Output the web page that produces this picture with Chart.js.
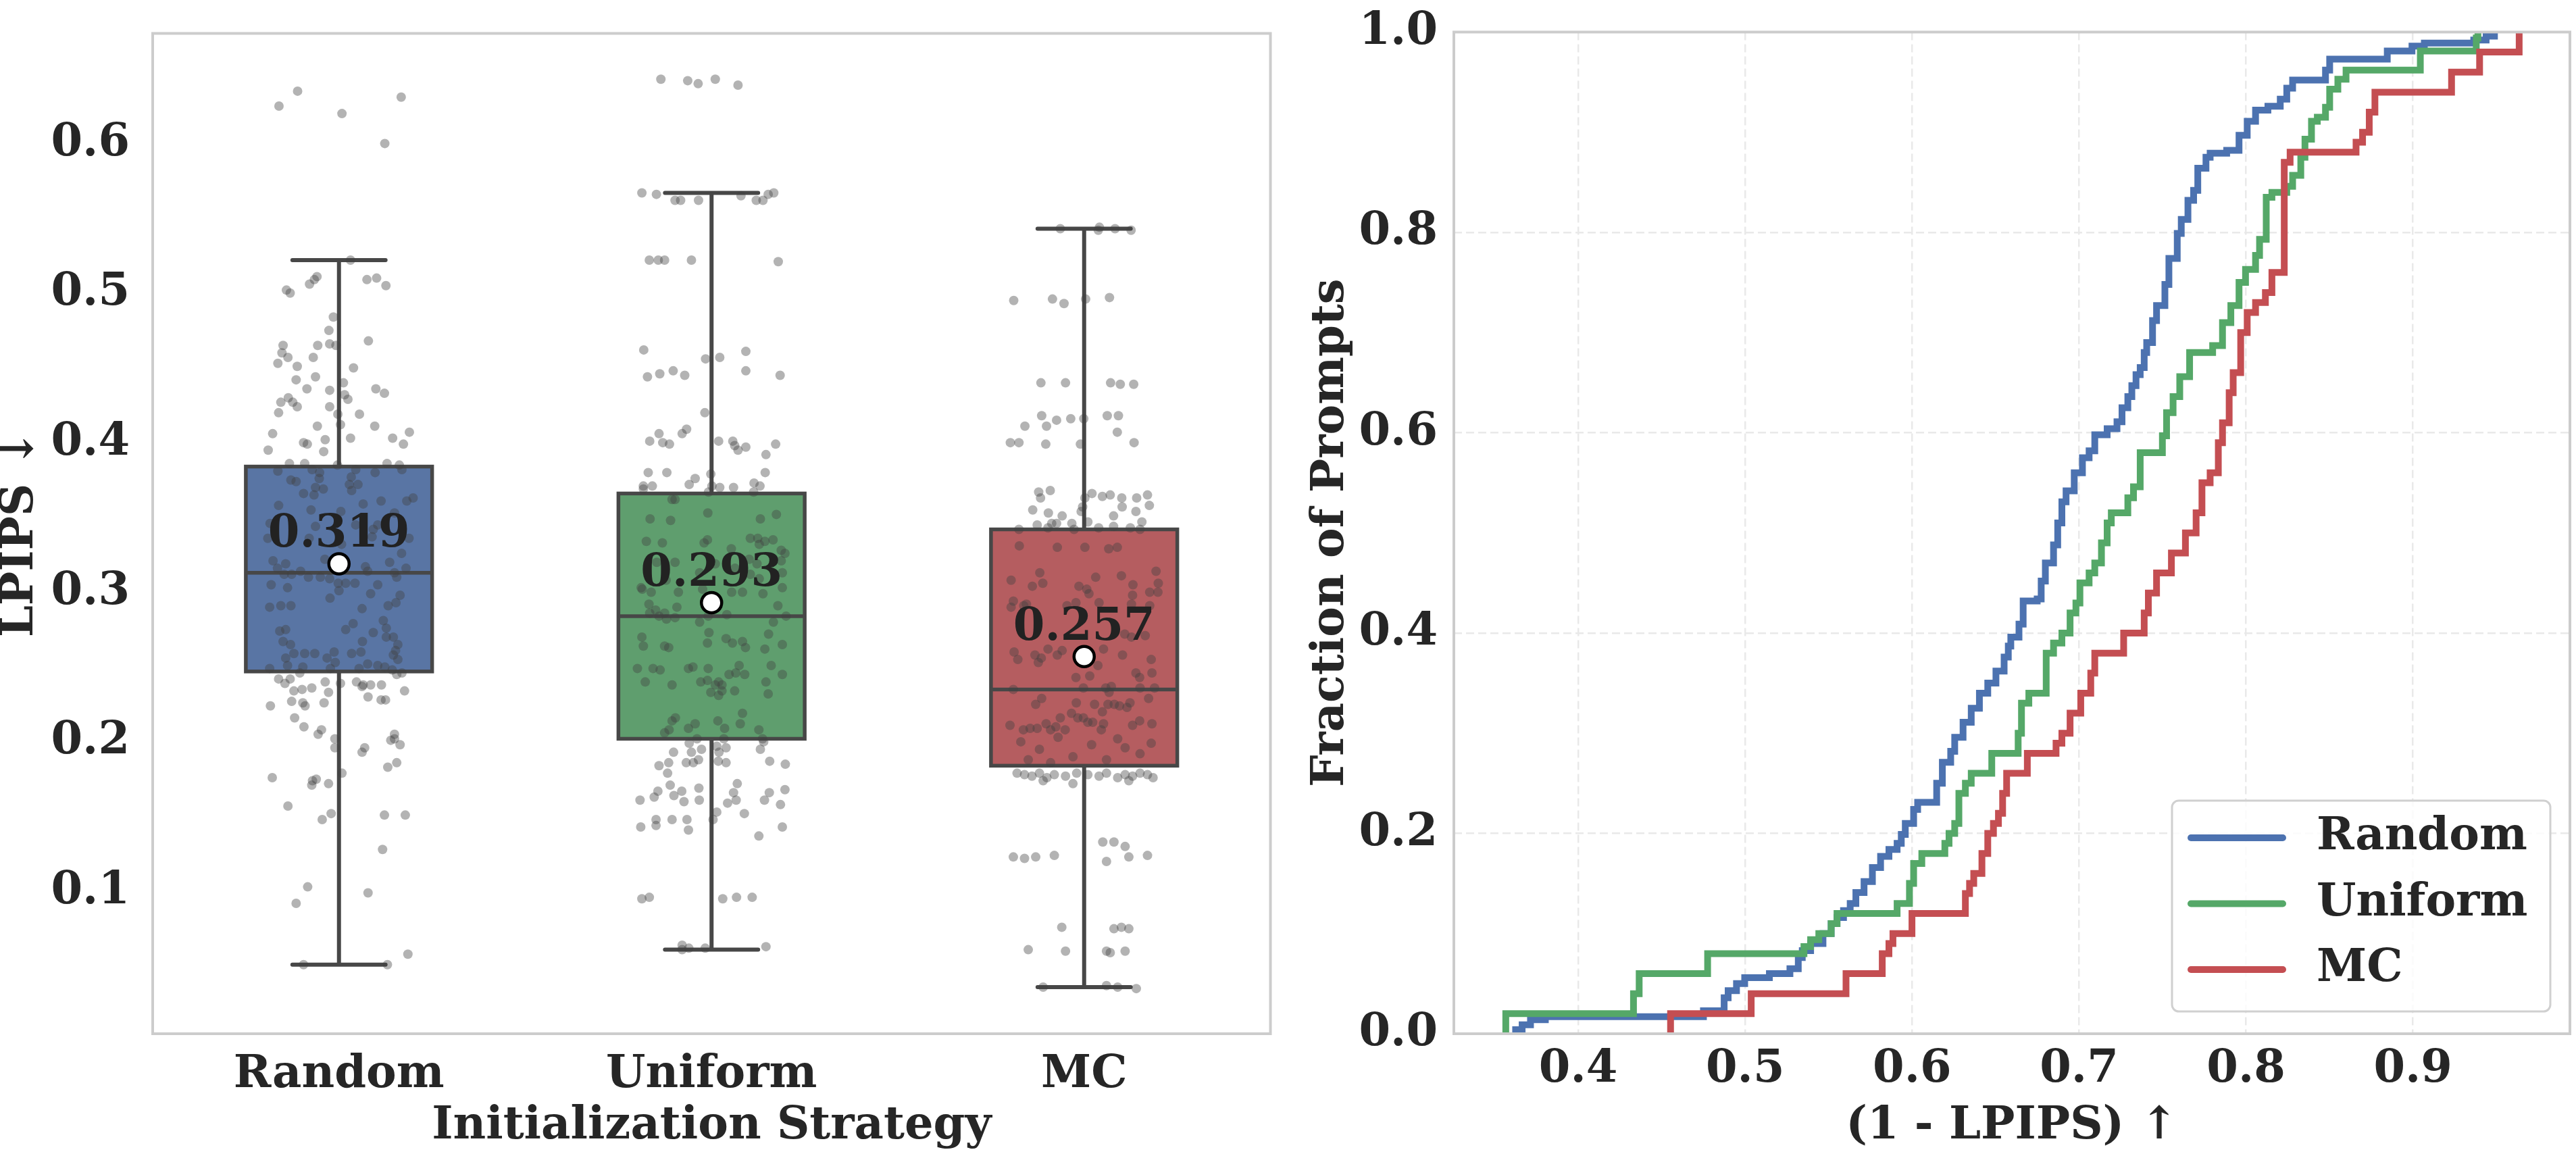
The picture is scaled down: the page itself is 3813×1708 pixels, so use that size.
<!DOCTYPE html>
<html>
<head>
<meta charset="utf-8">
<script src="https://cdn.jsdelivr.net/npm/chart.js@4.4.1/dist/chart.umd.min.js"></script>
<style>
  html, body { margin: 0; padding: 0; background: #fff; }
  body { width: 3813px; height: 1708px; position: relative; overflow: hidden; }
  #boxChart { position: absolute; left: 0; top: 0; }
  #ecdfChart { position: absolute; left: 1900px; top: 0; }
</style>
</head>
<body>
<canvas id="boxChart" width="1900" height="1708"></canvas>
<canvas id="ecdfChart" width="1913" height="1708"></canvas>
<script>
// ---- left panel: box + strip ----
const categories = ['Random', 'Uniform', 'MC'];
const boxColors = ['#5975a4', '#5f9e6e', '#b55d60'];
const whiskerLow = [0.051, 0.061, 0.036];
const q1 = [0.247, 0.202, 0.184];
const median = [0.313, 0.284, 0.235];
const q3 = [0.384, 0.366, 0.342];
const whiskerHigh = [0.522, 0.567, 0.543];
const means = [0.319, 0.293, 0.257];
const lpipsTicks = [0.1, 0.2, 0.3, 0.4, 0.5, 0.6];

// strip points: [jitter, LPIPS]
const randomPts = [
  [-0.111,0.635],[-0.161,0.625],[0.167,0.631],[0.008,0.620],[0.123,0.600],[0.031,0.522],[-0.059,0.511],[-0.066,0.509],
  [-0.079,0.506],[0.075,0.509],[0.101,0.510],[0.126,0.505],[-0.141,0.502],[-0.131,0.500],[-0.015,0.484],[-0.027,0.475],
  [0.079,0.468],[-0.150,0.465],[-0.057,0.465],[-0.025,0.466],[-0.008,0.465],[-0.153,0.460],[-0.137,0.457],[-0.069,0.457],
  [-0.164,0.453],[-0.112,0.451],[0.039,0.450],[-0.115,0.442],[-0.063,0.444],[0.012,0.440],[-0.086,0.436],[-0.025,0.435],
  [0.099,0.436],[0.122,0.433],[0.015,0.432],[-0.136,0.430],[0.024,0.429],[-0.156,0.427],[-0.124,0.427],
  [-0.112,0.424],[-0.025,0.424],[-0.162,0.420],[-0.003,0.419],[0.055,0.419],[0.004,0.412],[-0.058,0.411],[0.096,0.411],
  [-0.178,0.406],[0.189,0.407],[0.031,0.403],[0.144,0.403],[-0.095,0.400],[-0.085,0.399],[-0.037,0.402],[0.173,0.399],
  [-0.190,0.395],[-0.041,0.394],[-0.133,0.386],[-0.092,0.386],[0.129,0.386],[0.162,0.385],[-0.004,0.385],[-0.164,0.381],
  [-0.072,0.382],[-0.052,0.380],[0.045,0.382],[0.097,0.380],[0.169,0.382],[-0.053,0.376],[-0.129,0.375],[-0.115,0.374],
  [0.033,0.377],[0.051,0.372],[0.028,0.372],[-0.063,0.370],[-0.042,0.369],[-0.095,0.366],[-0.067,0.365],[0.034,0.368],
  [0.199,0.363],[0.182,0.361],[0.113,0.361],[0.065,0.359],[-0.162,0.358],[-0.075,0.355],[0.005,0.354],[0.149,0.353],
  [-0.185,0.346],[-0.063,0.344],[0.045,0.345],[0.092,0.342],[0.104,0.345],[-0.191,0.336],[-0.080,0.336],[0.089,0.337],
  [0.188,0.336],[0.007,0.332],[0.168,0.326],[-0.038,0.322],[-0.177,0.321],[-0.143,0.319],[0.136,0.320],[-0.165,0.316],
  [0.071,0.317],[0.180,0.316],[0.077,0.314],[-0.103,0.314],[0.149,0.313],[-0.127,0.312],[-0.147,0.312],[-0.082,0.310],
  [-0.050,0.310],[-0.025,0.309],[0.155,0.310],[-0.002,0.306],[0.018,0.306],[0.043,0.306],[0.104,0.305],[-0.182,0.305],
  [-0.138,0.303],[0.000,0.301],[0.085,0.299],[0.164,0.298],[-0.024,0.296],[-0.186,0.290],[-0.156,0.291],[-0.129,0.291],
  [0.062,0.289],[0.132,0.291],[0.153,0.293],[0.119,0.281],[0.038,0.279],[0.018,0.275],[-0.159,0.274],[-0.143,0.275],
  [0.127,0.276],[0.092,0.273],[0.127,0.270],[0.146,0.270],[-0.150,0.267],[-0.130,0.265],[0.063,0.267],[0.158,0.265],
  [0.152,0.261],[-0.121,0.259],[-0.092,0.259],[-0.065,0.259],[-0.013,0.260],[0.034,0.259],[0.059,0.260],[0.146,0.258],
  [-0.143,0.256],[-0.032,0.256],[0.158,0.255],[-0.010,0.253],[0.077,0.252],[-0.186,0.249],[-0.138,0.251],[-0.097,0.250],
  [-0.023,0.249],[0.054,0.249],[0.104,0.251],[0.123,0.250],[0.143,0.248],[0.169,0.246],[-0.105,0.246],[0.155,0.245],
  [-0.162,0.242],[-0.131,0.242],[-0.037,0.240],[0.004,0.239],[0.047,0.240],[0.065,0.238],[0.085,0.238],[0.114,0.238],
  [-0.145,0.239],[0.062,0.237],[-0.121,0.234],[-0.099,0.235],[-0.073,0.236],[-0.028,0.233],[0.176,0.234],[0.078,0.230],
  [0.113,0.228],[0.125,0.228],[-0.127,0.227],[-0.097,0.226],[-0.040,0.226],[-0.184,0.224],[-0.091,0.224],[-0.119,0.216],
  [-0.094,0.210],[-0.047,0.208],[-0.056,0.205],[0.149,0.205],
  [-0.011,0.202],[-0.011,0.196],[0.139,0.201],[0.149,0.202],[0.164,0.198],[0.069,0.196],[0.062,0.193],[0.155,0.186],
  [0.131,0.183],[0.008,0.179],[-0.179,0.176],[-0.071,0.174],[-0.061,0.175],[-0.073,0.171],[-0.028,0.172],[-0.137,0.157],
  [-0.021,0.152],[-0.045,0.148],[0.122,0.151],[0.178,0.151],[0.117,0.128],[-0.084,0.103],[0.078,0.099],[-0.115,0.092],
  [0.185,0.058],[-0.095,0.051],[0.130,0.051]
];
const uniformPts = [
  [-0.136,0.643],[-0.064,0.642],[-0.036,0.640],[0.010,0.643],[0.071,0.639],[-0.187,0.567],[-0.148,0.566],[-0.098,0.562],
  [-0.083,0.562],[-0.035,0.562],[0.079,0.565],[0.120,0.562],[0.138,0.562],[0.152,0.566],[0.167,0.567],[-0.167,0.522],
  [-0.143,0.522],[-0.126,0.522],[-0.054,0.522],[0.179,0.521],[-0.182,0.462],[-0.016,0.456],[0.022,0.457],[0.092,0.461],
  [-0.172,0.444],[-0.139,0.446],[-0.103,0.448],[-0.072,0.445],[0.092,0.448],[0.184,0.445],
  [-0.018,0.420],[-0.141,0.406],[-0.067,0.409],[-0.079,0.406],[-0.166,0.401],[-0.131,0.400],[-0.113,0.399],[0.019,0.401],
  [0.057,0.401],[0.062,0.398],[0.071,0.395],[0.092,0.397],[0.172,0.399],[0.146,0.392],[-0.170,0.380],[-0.120,0.380],
  [-0.002,0.379],[0.144,0.380],[-0.044,0.376],[-0.060,0.372],[-0.183,0.371],[-0.159,0.371],[-0.183,0.369],[0.001,0.371],
  [0.022,0.370],[0.059,0.370],[0.114,0.373],[0.130,0.371],[0.113,0.367],[-0.008,0.367],[-0.106,0.362],[-0.098,0.362],
  [-0.010,0.353],[-0.165,0.349],[-0.110,0.348],[0.131,0.349],[0.174,0.352],[-0.175,0.334],[-0.132,0.333],[-0.020,0.333],
  [-0.011,0.335],[0.104,0.336],[0.124,0.336],[0.143,0.334],[0.165,0.335],[0.128,0.332],[0.053,0.329],[0.187,0.328],
  [0.197,0.326],[0.187,0.321],[-0.098,0.320],[-0.147,0.320],[0.010,0.319],[0.101,0.322],[0.122,0.319],[0.063,0.316],
  [-0.032,0.313],[0.104,0.312],[0.190,0.313],[0.128,0.309],[-0.122,0.308],[-0.189,0.303],[0.190,0.303],[-0.186,0.302],
  [-0.162,0.300],[-0.089,0.300],[-0.024,0.302],[0.054,0.300],[0.083,0.300],[0.138,0.299],[-0.168,0.292],[-0.093,0.290],
  [0.007,0.293],[0.178,0.291],[-0.166,0.286],[-0.150,0.288],[-0.126,0.286],[-0.141,0.284],[-0.121,0.282],[-0.098,0.283],
  [-0.009,0.284],[0.041,0.285],[0.200,0.284],[-0.032,0.280],[0.166,0.280],[-0.007,0.273],[0.153,0.272],[-0.187,0.270],
  [0.039,0.269],[0.083,0.267],[-0.183,0.264],[-0.126,0.264],[-0.115,0.263],[-0.011,0.266],[0.056,0.266],[0.091,0.263],
  [0.143,0.262],[0.190,0.265],[-0.199,0.249],[-0.157,0.249],[-0.138,0.248],[-0.062,0.249],[-0.050,0.250],[-0.009,0.249],
  [0.074,0.251],[0.047,0.245],[0.065,0.246],[0.089,0.245],[0.160,0.251],[0.190,0.245],[-0.178,0.240],[-0.106,0.238],
  [-0.029,0.240],[-0.011,0.241],[0.019,0.240],[0.010,0.238],[0.028,0.238],[0.146,0.240],[-0.002,0.233],[0.028,0.234],
  [0.062,0.234],[0.019,0.231],[0.152,0.232],[0.083,0.219],[-0.097,0.216],[-0.106,0.214],[-0.044,0.212],[-0.062,0.209],
  [0.017,0.214],[0.035,0.209],[0.077,0.212],[0.127,0.208],[-0.114,0.208],[-0.126,0.206],
  [-0.060,0.199],[-0.039,0.202],[0.033,0.202],[0.140,0.200],[0.137,0.202],[-0.102,0.193],[-0.054,0.193],[-0.027,0.195],
  [0.014,0.197],[0.020,0.193],[0.039,0.196],[0.131,0.195],[-0.141,0.184],[-0.115,0.186],[-0.068,0.186],[-0.049,0.186],
  [-0.035,0.188],[0.018,0.187],[0.039,0.186],[0.156,0.187],[0.198,0.185],[-0.118,0.179],[-0.111,0.171],[0.069,0.172],
  [-0.034,0.169],[-0.144,0.167],[-0.080,0.167],[0.059,0.166],[0.155,0.166],[0.197,0.168],[-0.192,0.161],[-0.154,0.163],
  [-0.101,0.164],[-0.074,0.160],[-0.033,0.161],[0.043,0.159],[0.066,0.161],[0.142,0.161],[0.185,0.158],[0.014,0.153],
  [0.088,0.152],[-0.149,0.148],[-0.106,0.148],[-0.066,0.148],[0.004,0.148],[-0.190,0.143],[-0.149,0.144],[0.190,0.143],
  [-0.062,0.141],[0.127,0.137],[-0.187,0.095],[-0.167,0.096],[0.030,0.095],[0.067,0.096],[0.109,0.096],[-0.079,0.064],
  [-0.079,0.061],[-0.061,0.062],[-0.017,0.062],[0.146,0.063]
];
const mcPts = [
  [-0.064,0.543],[0.038,0.542],[0.041,0.544],[0.083,0.543],[0.126,0.542],[-0.189,0.495],[-0.085,0.496],[-0.054,0.493],
  [0.004,0.496],[0.068,0.497],[-0.116,0.440],[-0.050,0.440],[0.071,0.440],[0.097,0.439],[0.133,0.439],
  [-0.114,0.418],[-0.074,0.415],[-0.036,0.416],[-0.001,0.416],[0.062,0.418],[0.092,0.418],[-0.159,0.411],[-0.101,0.411],
  [0.089,0.407],[-0.198,0.400],[-0.175,0.400],[-0.103,0.399],[-0.010,0.399],[0.134,0.400],[-0.122,0.367],[-0.091,0.368],
  [-0.117,0.363],[0.021,0.366],[0.002,0.363],[0.049,0.364],[0.070,0.365],[0.101,0.363],[0.141,0.363],[0.170,0.365],
  [-0.138,0.355],[-0.096,0.353],[-0.059,0.351],[-0.004,0.357],[-0.008,0.354],[0.102,0.357],[0.139,0.354],[0.175,0.358],
  [0.079,0.351],[-0.126,0.345],[-0.087,0.346],[-0.074,0.346],[-0.033,0.346],[0.010,0.347],[0.155,0.347],[-0.175,0.342],
  [-0.097,0.343],[-0.027,0.342],[0.039,0.343],[0.079,0.344],[0.124,0.343],[0.150,0.342],[-0.174,0.331],[-0.072,0.330],
  [0.002,0.330],[0.066,0.329],[0.089,0.330],[-0.119,0.313],[0.031,0.310],[0.100,0.311],[0.193,0.314],[-0.196,0.308],
  [-0.111,0.306],[-0.139,0.304],[-0.014,0.304],[0.131,0.305],[0.199,0.306],[0.007,0.302],[0.013,0.299],[0.130,0.298],
  [0.176,0.300],[0.198,0.300],[-0.190,0.294],[-0.196,0.290],[-0.162,0.291],[-0.155,0.292],[-0.046,0.291],[-0.022,0.293],
  [0.040,0.293],[0.127,0.292],[0.176,0.291],[0.109,0.272],[0.127,0.270],[0.164,0.271],[-0.188,0.260],[-0.178,0.255],
  [-0.132,0.258],[-0.123,0.253],[-0.115,0.256],[-0.097,0.262],[-0.072,0.258],[-0.059,0.261],[0.052,0.262],[0.103,0.258],
  [0.037,0.251],[0.180,0.255],[-0.022,0.243],[0.015,0.244],[0.139,0.246],[0.149,0.243],[0.182,0.246],[-0.190,0.235],
  [-0.002,0.236],[0.058,0.236],[0.073,0.237],[0.067,0.233],[0.150,0.236],[0.189,0.236],[-0.130,0.225],[-0.114,0.229],
  [-0.021,0.226],[0.028,0.225],[0.049,0.220],[0.064,0.225],[0.081,0.225],[0.095,0.224],[0.115,0.223],[0.123,0.226],
  [0.173,0.229],[-0.199,0.211],[-0.163,0.208],[-0.145,0.209],[-0.126,0.209],[-0.102,0.212],[-0.090,0.208],[-0.076,0.210],
  [-0.064,0.216],[-0.051,0.208],[-0.034,0.219],[-0.017,0.216],[-0.002,0.216],[0.010,0.213],[0.023,0.213],[0.046,0.208],
  [0.052,0.212],[0.130,0.211],[0.149,0.214],[0.182,0.212],
  [-0.170,0.200],[-0.120,0.195],[-0.070,0.203],[-0.030,0.190],[0.020,0.198],[0.060,0.188],[0.110,0.196],[0.150,0.192],
  [0.180,0.199],[-0.150,0.188],[0.090,0.202],[-0.090,0.186],
  [-0.180,0.179],[-0.160,0.178],[-0.140,0.177],[-0.120,0.179],[-0.100,0.176],[-0.080,0.178],[-0.050,0.177],[-0.020,0.179],
  [0.010,0.178],[0.040,0.177],[0.060,0.179],[0.090,0.176],[0.110,0.178],[0.130,0.177],[0.150,0.179],[0.170,0.178],
  [0.185,0.176],[-0.110,0.174],[0.120,0.174],[-0.030,0.172],
  [-0.190,0.123],[-0.160,0.122],[-0.130,0.123],[-0.080,0.124],[0.050,0.133],[0.080,0.133],[0.110,0.130],[0.120,0.123],
  [0.170,0.124],[0.060,0.120],[-0.060,0.076],[0.080,0.075],[0.100,0.076],[0.120,0.075],[-0.150,0.061],[-0.050,0.060],
  [0.060,0.060],[0.070,0.059],[0.110,0.060],[-0.110,0.036],[0.060,0.037],[0.090,0.036],[0.140,0.035]
];

// ---- right panel: ECDF of (1 - LPIPS), [x, fraction] ----
const fractionTicks = [0, 0.2, 0.4, 0.6, 0.8, 1.0];
const scoreTicks = [0.4, 0.5, 0.6, 0.7, 0.8, 0.9];
const ecdfRandom = [
  [0.3625,0],[0.3625,0.004],[0.3664,0.009],[0.3714,0.014],[0.3803,0.017],[0.4750,0.023],[0.4874,0.036],[0.4898,0.043],
  [0.4948,0.05],[0.4997,0.056],[0.5145,0.06],[0.5268,0.065],[0.5318,0.076],[0.5342,0.083],[0.5392,0.09],[0.5466,0.10],
  [0.5515,0.11],[0.5550,0.116],[0.5589,0.123],[0.5629,0.13],[0.5663,0.141],[0.5712,0.152],[0.5762,0.166],[0.5811,0.177],
  [0.5861,0.184],[0.5910,0.19],[0.5935,0.199],[0.5959,0.21],[0.6009,0.224],[0.6033,0.231],[0.6147,0.25],[0.6181,0.271],
  [0.6231,0.282],[0.6255,0.296],[0.6305,0.311],[0.6354,0.325],[0.6403,0.34],[0.6453,0.35],[0.6502,0.362],[0.6551,0.376],
  [0.6576,0.387],[0.6591,0.396],[0.6640,0.409],[0.6665,0.432],[0.6749,0.434],[0.6773,0.452],[0.6798,0.47],[0.6847,0.488],
  [0.6872,0.51],[0.6897,0.531],[0.6922,0.542],[0.6971,0.56],[0.7020,0.575],[0.7060,0.582],[0.7094,0.598],[0.7168,0.604],
  [0.7227,0.611],[0.7257,0.625],[0.7292,0.636],[0.7316,0.647],[0.7341,0.658],[0.7366,0.665],[0.7390,0.68],[0.7405,0.69],
  [0.7440,0.712],[0.7464,0.727],[0.7514,0.748],[0.7538,0.774],[0.7588,0.799],[0.7612,0.813],[0.7652,0.832],[0.7686,0.842],
  [0.7711,0.864],[0.7760,0.875],[0.7785,0.879],[0.7884,0.882],[0.7958,0.897],[0.8007,0.911],[0.8057,0.922],[0.8131,0.926],
  [0.8205,0.933],[0.8244,0.944],[0.8279,0.952],[0.8476,0.962],[0.8501,0.973],[0.8846,0.981],[0.8994,0.986],[0.9068,0.989],
  [0.9364,0.992],[0.9438,0.996],[0.9488,1.0]
];
const ecdfUniform = [
  [0.3556,0],[0.3566,0.02],[0.4331,0.04],[0.4365,0.06],[0.4775,0.08],[0.5352,0.087],[0.5392,0.094],[0.5441,0.10],
  [0.5515,0.11],[0.5550,0.12],[0.5910,0.13],[0.5984,0.15],[0.6009,0.17],[0.6058,0.18],[0.6196,0.19],[0.6221,0.20],
  [0.6255,0.21],[0.6280,0.24],[0.6319,0.25],[0.6354,0.26],[0.6477,0.28],[0.6635,0.30],[0.6655,0.33],[0.6699,0.34],
  [0.6803,0.38],[0.6847,0.39],[0.6897,0.40],[0.6946,0.42],[0.6981,0.43],[0.7005,0.45],[0.7060,0.46],[0.7094,0.47],
  [0.7134,0.49],[0.7168,0.51],[0.7193,0.52],[0.7292,0.535],[0.7326,0.546],[0.7366,0.58],[0.7499,0.597],[0.7524,0.62],
  [0.7563,0.636],[0.7603,0.656],[0.7662,0.68],[0.7800,0.687],[0.7859,0.71],[0.7909,0.727],[0.7958,0.75],[0.7997,0.763],
  [0.8057,0.777],[0.8081,0.793],[0.8121,0.835],[0.8155,0.84],[0.8244,0.846],[0.8279,0.857],[0.8328,0.875],[0.8353,0.893],
  [0.8392,0.911],[0.8427,0.915],[0.8476,0.925],[0.8501,0.943],[0.8550,0.953],[0.8599,0.962],[0.9044,0.981],[0.9379,0.994],
  [0.9389,1.0]
];
const ecdfMC = [
  [0.4553,0],[0.4553,0.02],[0.5036,0.04],[0.5604,0.06],[0.5821,0.08],[0.5861,0.09],[0.5885,0.10],[0.5999,0.12],
  [0.6319,0.14],[0.6344,0.15],[0.6369,0.16],[0.6418,0.18],[0.6453,0.20],[0.6487,0.21],[0.6517,0.22],[0.6542,0.24],
  [0.6566,0.26],[0.6690,0.28],[0.6862,0.29],[0.6897,0.30],[0.6946,0.32],[0.7010,0.34],[0.7070,0.36],[0.7094,0.38],
  [0.7267,0.40],[0.7390,0.42],[0.7415,0.44],[0.7464,0.46],[0.7553,0.48],[0.7637,0.50],[0.7701,0.52],[0.7736,0.55],
  [0.7785,0.56],[0.7834,0.59],[0.7859,0.61],[0.7899,0.64],[0.7923,0.66],[0.7968,0.70],[0.8007,0.72],[0.8057,0.73],
  [0.8116,0.74],[0.8155,0.76],[0.8229,0.87],[0.8264,0.88],[0.8659,0.89],[0.8698,0.90],[0.8738,0.92],[0.8772,0.94],
  [0.9231,0.96],[0.9399,0.98],[0.9636,1.0]
];

const FONT = "'DejaVu Serif', serif";
const INK = '#262626';
const tickFont = { family: FONT, size: 67, weight: 'bold', lineHeight: 0.7 };
const titleFont = { family: FONT, size: 67, weight: 'bold' };

// light grey frame on all four sides, like the seaborn axes
const frame = {
  id: 'frame',
  afterDatasetsDraw(chart) {
    const { ctx, chartArea: a } = chart;
    ctx.save();
    ctx.strokeStyle = '#cccccc';
    ctx.lineWidth = 4;
    ctx.strokeRect(a.left, a.top, a.right - a.left, a.bottom - a.top);
    ctx.restore();
  },
};

const boxPlot = {
  id: 'boxPlot',
  beforeDatasetsDraw(chart) {
    const { ctx, scales: { x, y } } = chart;
    ctx.save();
    ctx.strokeStyle = '#474747';
    categories.forEach((c, i) => {
      const cx = x.getPixelForValue(i);
      const top = y.getPixelForValue(q3[i]);
      const bottom = y.getPixelForValue(q1[i]);
      const hi = y.getPixelForValue(whiskerHigh[i]);
      const lo = y.getPixelForValue(whiskerLow[i]);
      const capL = x.getPixelForValue(i - 0.125);
      const capR = x.getPixelForValue(i + 0.125);
      ctx.lineWidth = 6;
      ctx.lineCap = 'round';
      ctx.beginPath();
      ctx.moveTo(cx, top); ctx.lineTo(cx, hi);
      ctx.moveTo(cx, bottom); ctx.lineTo(cx, lo);
      ctx.moveTo(capL, hi); ctx.lineTo(capR, hi);
      ctx.moveTo(capL, lo); ctx.lineTo(capR, lo);
      ctx.stroke();
      const left = x.getPixelForValue(i - 0.25);
      const right = x.getPixelForValue(i + 0.25);
      ctx.fillStyle = boxColors[i];
      ctx.fillRect(left, top, right - left, bottom - top);
      ctx.lineWidth = 5.5;
      ctx.lineCap = 'butt';
      ctx.strokeRect(left, top, right - left, bottom - top);
      const med = y.getPixelForValue(median[i]);
      ctx.beginPath();
      ctx.moveTo(left, med); ctx.lineTo(right, med);
      ctx.stroke();
    });
    ctx.restore();
  },
  afterDatasetsDraw(chart) {
    const { ctx, scales: { x, y } } = chart;
    ctx.save();
    ctx.font = `bold 67px ${FONT}`;
    ctx.fillStyle = '#222222';
    ctx.textAlign = 'center';
    ctx.textBaseline = 'alphabetic';
    means.forEach((m, i) => {
      ctx.fillText(m.toFixed(3), x.getPixelForValue(i), y.getPixelForValue(m) - 25);
    });
    ctx.restore();
  },
};

const stripSet = (pts, i) => ({
  data: pts.map(([j, v]) => ({ x: i + j, y: v })),
  backgroundColor: 'rgba(64,64,64,0.4)',
  pointRadius: 7,
  pointBorderWidth: 0,
  order: 1,
});

new Chart(document.getElementById('boxChart'), {
  type: 'scatter',
  data: {
    datasets: [
      stripSet(randomPts, 0),
      stripSet(uniformPts, 1),
      stripSet(mcPts, 2),
      {
        data: means.map((m, i) => ({ x: i, y: m })),
        backgroundColor: '#ffffff',
        borderColor: '#000000',
        pointRadius: 15,
        pointBorderWidth: 4.5,
        order: 0,
      },
    ],
  },
  options: {
    responsive: false,
    animation: false,
    layout: { padding: { top: 24, right: 18, left: 0, bottom: 0 } },
    plugins: { legend: { display: false }, tooltip: { enabled: false } },
    scales: {
      x: {
        type: 'linear',
        min: -0.5,
        max: 2.5,
        grid: { display: false },
        border: { display: false },
        afterBuildTicks: (s) => { s.ticks = categories.map((c, i) => ({ value: i })); },
        afterFit: (s) => { s.height = 178; },
        ticks: { callback: (v) => categories[v], font: tickFont, color: INK, padding: 30, maxRotation: 0 },
        title: { display: true, text: 'Initialization Strategy', font: titleFont, color: INK, padding: 0 },
      },
      y: {
        min: 0.0048,
        max: 0.6736,
        grid: { display: false },
        border: { display: false },
        afterBuildTicks: (s) => { s.ticks = lpipsTicks.map((v) => ({ value: v })); },
        afterFit: (s) => { s.width = 226; },
        ticks: { callback: (v) => v.toFixed(1), font: tickFont, color: INK, padding: 26 },
        title: { display: true, text: 'LPIPS ↓', font: { ...titleFont, lineHeight: 0.9 }, color: INK, padding: 0 },
      },
    },
  },
  plugins: [boxPlot, frame],
});

// ---- ECDF panel ----
const ecdfLegend = {
  id: 'ecdfLegend',
  afterDraw(chart) {
    const { ctx, chartArea: a } = chart;
    const w = 560, h = 312;
    const left = a.right - 29 - w;
    const top = a.bottom - 33 - h;
    ctx.save();
    ctx.beginPath();
    ctx.roundRect(left, top, w, h, 10);
    ctx.fillStyle = 'rgba(255,255,255,0.8)';
    ctx.fill();
    ctx.strokeStyle = '#d0d0d0';
    ctx.lineWidth = 3;
    ctx.stroke();
    ctx.font = `bold 67px ${FONT}`;
    ctx.textBaseline = 'middle';
    chart.data.datasets.forEach((ds, i) => {
      const yy = top + 55 + i * 97.5;
      ctx.strokeStyle = ds.borderColor;
      ctx.lineWidth = 10;
      ctx.lineCap = 'round';
      ctx.beginPath();
      ctx.moveTo(left + 28, yy);
      ctx.lineTo(left + 164, yy);
      ctx.stroke();
      ctx.fillStyle = INK;
      ctx.fillText(ds.label, left + 214, yy);
    });
    ctx.restore();
  },
};

const ecdfSet = (label, pts, color, order) => ({
  label,
  data: pts.map(([x, y]) => ({ x, y })),
  borderColor: color,
  backgroundColor: color,
  borderWidth: 10,
  pointRadius: 0,
  stepped: 'before',
  fill: false,
  clip: 0,
  order,
});

new Chart(document.getElementById('ecdfChart'), {
  type: 'line',
  data: {
    datasets: [
      ecdfSet('Random', ecdfRandom, '#4c72b0', 3),
      ecdfSet('Uniform', ecdfUniform, '#55a868', 2),
      ecdfSet('MC', ecdfMC, '#c44e52', 1),
    ],
  },
  options: {
    responsive: false,
    animation: false,
    layout: { padding: { top: 24, right: 9, left: 0, bottom: 0 } },
    plugins: { legend: { display: false }, tooltip: { enabled: false } },
    scales: {
      x: {
        type: 'linear',
        min: 0.3255,
        max: 0.994,
        grid: { color: '#e9e9e9', lineWidth: 2.5, drawTicks: false },
        border: { display: false, dash: [12, 6] },
        afterBuildTicks: (s) => { s.ticks = scoreTicks.map((v) => ({ value: v })); },
        afterFit: (s) => { s.height = 178; },
        ticks: { callback: (v) => v.toFixed(1), font: tickFont, color: INK, padding: 30, maxRotation: 0 },
        title: { display: true, text: '(1 - LPIPS) ↑', font: titleFont, color: INK, padding: 0 },
      },
      y: {
        min: 0,
        max: 1,
        grid: { color: '#e9e9e9', lineWidth: 2.5, drawTicks: false },
        border: { display: false, dash: [12, 6] },
        afterBuildTicks: (s) => { s.ticks = fractionTicks.map((v) => ({ value: v })); },
        afterFit: (s) => { s.width = 252; },
        ticks: { callback: (v) => v.toFixed(1), font: tickFont, color: INK, padding: 24 },
        title: { display: true, text: 'Fraction of Prompts', font: titleFont, color: INK, padding: { top: 30 } },
      },
    },
  },
  plugins: [frame, ecdfLegend],
});
</script>
</body>
</html>
